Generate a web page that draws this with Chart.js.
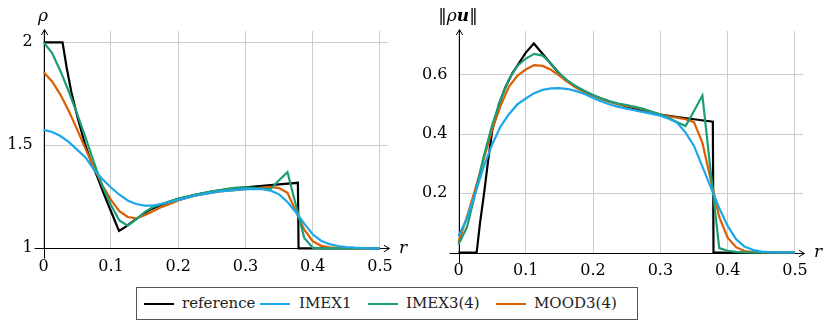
<!DOCTYPE html>
<html><head><meta charset="utf-8">
<script src="https://cdn.jsdelivr.net/npm/chart.js@4"></script>
<style>
html,body{margin:0;padding:0;background:#fff;width:831px;height:327px;overflow:hidden;}
#wrap{position:relative;width:831px;height:327px;}
canvas{position:absolute;top:0;}
.lab{position:absolute;font-family:"DejaVu Serif",serif;font-size:17px;line-height:1;white-space:nowrap;color:#000;transform:translate(-50%,-50%);}
.it{font-style:italic;}
.bi{font-style:italic;font-weight:bold;}
#legend{position:absolute;left:136px;top:287px;width:500px;height:31px;border:1px solid #555;}
.ln{position:absolute;top:15px;width:30px;height:2.2px;}
.lt{position:absolute;top:0;height:31px;line-height:31px;font-family:"DejaVu Serif",serif;font-size:15px;color:#222;white-space:nowrap;}
</style></head>
<body><div id="wrap">
<canvas id="c1" width="415" height="282" style="left:0;width:415px;height:282px"></canvas>
<canvas id="c2" width="416" height="282" style="left:415px;width:416px;height:282px"></canvas>
<div class="lab it" style="left:43px;top:15px">ρ</div>
<div class="lab it" style="left:403px;top:247px">r</div>
<div class="lab" style="left:458px;top:15px">‖<span class="it">ρ</span><span class="bi">u</span>‖</div>
<div class="lab it" style="left:818px;top:251px">r</div>
<div id="legend"></div>
</div>
<script>
// ---------- data ----------
const rGrid = [0,0.0125,0.025,0.0375,0.05,0.0625,0.075,0.0875,0.1,0.1125,0.125,0.1375,0.15,0.1625,0.175,0.1875,0.2,0.2125,0.225,0.2375,0.25,0.2625,0.275,0.2875,0.3,0.3125,0.325,0.3375,0.35,0.3625,0.375,0.3875,0.4,0.4125,0.425,0.4375,0.45,0.4625,0.475,0.4875,0.5];

const rRhoRef = [0,0.028,0.034,0.041,0.05,0.061,0.07,0.08,0.09,0.1,0.112,0.12,0.13,0.14,0.15,0.16,0.175,0.2,0.225,0.25,0.275,0.3,0.325,0.35,0.378,0.379,0.5];
const rhoRef  = [2,2,1.88,1.76,1.64,1.51,1.425,1.345,1.26,1.18,1.084,1.1,1.125,1.148,1.17,1.19,1.212,1.24,1.26,1.275,1.287,1.296,1.303,1.31,1.318,1,1];
const rhoImex1 = [1.575,1.565,1.545,1.515,1.478,1.44,1.38,1.335,1.295,1.26,1.232,1.215,1.207,1.207,1.215,1.225,1.235,1.245,1.255,1.263,1.27,1.276,1.28,1.284,1.287,1.288,1.287,1.28,1.262,1.225,1.175,1.12,1.068,1.037,1.02,1.011,1.006,1.003,1.001,1,1];
const rhoImex3 = [2,1.948,1.86,1.76,1.65,1.535,1.415,1.3,1.21,1.135,1.11,1.14,1.175,1.2,1.215,1.228,1.24,1.25,1.26,1.268,1.276,1.283,1.29,1.295,1.296,1.294,1.29,1.288,1.33,1.37,1.21,1.05,1.003,1,1,1,1,1,1,1,1];
const rhoMood  = [1.855,1.81,1.745,1.665,1.575,1.48,1.39,1.305,1.235,1.18,1.152,1.145,1.16,1.18,1.2,1.215,1.232,1.245,1.255,1.263,1.27,1.276,1.28,1.284,1.287,1.29,1.295,1.298,1.292,1.27,1.18,1.09,1.035,1.012,1.005,1.002,1,1,1,1,1];

const rMomRef = [0,0.027,0.032,0.038,0.044,0.05,0.06,0.07,0.08,0.09,0.1,0.112,0.128,0.14,0.158,0.175,0.1875,0.2,0.225,0.25,0.275,0.3,0.325,0.35,0.378,0.379,0.5];
const momRef  = [0,0,0.1,0.2,0.31,0.41,0.5,0.56,0.605,0.64,0.675,0.706,0.663,0.63,0.584,0.56,0.545,0.53,0.51,0.493,0.48,0.466,0.457,0.45,0.442,0,0];
const momImex1 = [0.055,0.115,0.2,0.29,0.365,0.425,0.467,0.5,0.52,0.538,0.549,0.554,0.555,0.552,0.545,0.535,0.522,0.51,0.5,0.492,0.486,0.48,0.474,0.468,0.462,0.452,0.438,0.405,0.36,0.29,0.22,0.15,0.09,0.045,0.02,0.009,0.003,0.001,0,0,0];
const momImex3 = [0.027,0.085,0.2,0.325,0.43,0.515,0.585,0.63,0.655,0.671,0.665,0.638,0.605,0.58,0.56,0.545,0.532,0.52,0.51,0.503,0.498,0.492,0.485,0.475,0.466,0.455,0.44,0.427,0.478,0.53,0.27,0.015,0.006,0.002,0,0,0,0,0,0,0];
const momMood  = [0.035,0.12,0.215,0.315,0.415,0.495,0.56,0.597,0.618,0.633,0.63,0.617,0.597,0.575,0.556,0.54,0.53,0.518,0.508,0.5,0.495,0.49,0.483,0.474,0.466,0.46,0.455,0.45,0.44,0.37,0.245,0.12,0.05,0.018,0.005,0.001,0,0,0,0,0];

const xTicks = [0,0.1,0.2,0.3,0.4,0.5];
const rhoTicks = [1,1.5,2];
const momTicks = [0.2,0.4,0.6];
const seriesNames = ['reference','IMEX1','IMEX3(4)','MOOD3(4)'];
const seriesColors = ['#000000','#1ba7ea','#1b9e77','#d95f02'];

// ---------- helpers ----------
const pts = (xs, ys) => xs.map((x,i)=>({x:x, y:ys[i]}));
const ds = (i, xs, ys) => ({label:seriesNames[i], data:pts(xs,ys), borderColor:seriesColors[i], borderWidth:2.2, pointRadius:0, tension:0, fill:false, clip:6});

const axisPlugin = {
  id:'axes',
  beforeDatasetsDraw(chart){
    const {ctx, chartArea:a} = chart;
    const x0 = Math.round(a.left)+0.5, y0 = Math.round(a.bottom)+0.5;
    ctx.save();
    ctx.strokeStyle='#000'; ctx.lineWidth=1;
    ctx.beginPath();
    ctx.moveTo(x0, y0+10); ctx.lineTo(x0, a.top-1);
    ctx.moveTo(x0-10, y0); ctx.lineTo(a.right+1, y0);
    ctx.stroke();
    ctx.beginPath();
    ctx.moveTo(x0-3.2, a.top+4); ctx.lineTo(x0, a.top-1.5); ctx.lineTo(x0+3.2, a.top+4);
    ctx.moveTo(a.right-4, y0-3.2); ctx.lineTo(a.right+1.5, y0); ctx.lineTo(a.right-4, y0+3.2);
    ctx.stroke();
    ctx.restore();
  }
};

const tickFont = {family:'"DejaVu Serif", serif', size:16};
function makeChart(id, datasets, yMin, yMax, yTicks, leftW, bottomH, rightPad){
  return new Chart(document.getElementById(id), {
    type:'line',
    data:{datasets:datasets},
    options:{
      responsive:false, animation:false, devicePixelRatio:1,
      layout:{padding:{top:31, right:rightPad, left:0, bottom:0}},
      plugins:{legend:{display:false}, tooltip:{enabled:false}},
      scales:{
        x:{type:'linear', min:0, max:0.512,
           afterBuildTicks:s=>{s.ticks = xTicks.map(v=>({value:v}));},
           afterFit:s=>{s.height = bottomH;},
           ticks:{font:tickFont, color:'#000', padding:9, maxRotation:0, callback:v=>String(+v.toFixed(2))},
           grid:{color:'#cccccc', lineWidth:1, drawTicks:false},
           border:{display:false}},
        y:{type:'linear', min:yMin, max:yMax,
           afterBuildTicks:s=>{s.ticks = yTicks.map(v=>({value:v}));},
           afterFit:s=>{s.width = leftW;},
           ticks:{font:tickFont, color:'#000', padding:11, callback:v=>String(+v.toFixed(2))},
           grid:{color:'#cccccc', lineWidth:1, drawTicks:false},
           border:{display:false}}
      }
    },
    plugins:[axisPlugin]
  });
}

makeChart('c1', [
  ds(1, rGrid, rhoImex1),
  ds(2, rGrid, rhoImex3),
  ds(3, rGrid, rhoMood),
  ds(0, rRhoRef, rhoRef)
], 1, 2.055, rhoTicks, 43.7, 33.7, 27);

makeChart('c2', [
  ds(1, rGrid, momImex1),
  ds(2, rGrid, momImex3),
  ds(3, rGrid, momMood),
  ds(0, rMomRef, momRef)
], 0, 0.748, momTicks, 43.5, 29.5, 28);

// ---------- legend ----------
const lg = document.getElementById('legend');
const lineLeft = [7,123,231,359];
const textLeft = [45,162,269,397];
seriesNames.forEach((n,i)=>{
  const l=document.createElement('div'); l.className='ln'; l.style.left=lineLeft[i]+'px'; l.style.background=seriesColors[i]; lg.appendChild(l);
  const t=document.createElement('div'); t.className='lt'; t.style.left=textLeft[i]+'px'; t.textContent=n; lg.appendChild(t);
});
</script>
</body></html>
